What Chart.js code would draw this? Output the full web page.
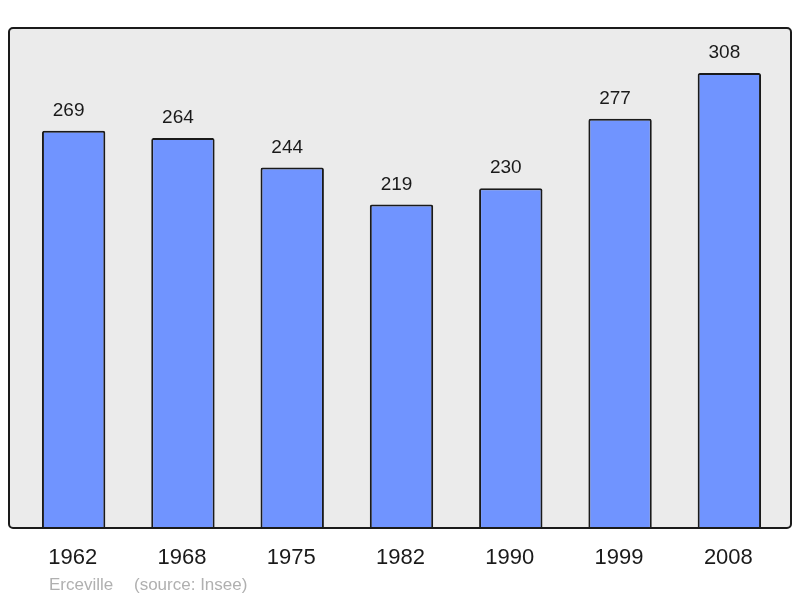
<!DOCTYPE html>
<html lang="fr">
<head>
  <meta charset="UTF-8" />
  <title>Erceville population</title>
  <style>
    body { margin: 0; background: #fff; }
  </style>
</head>
<body>
  <canvas id="myChart" width="800" height="598"></canvas>

  <script src="https://cdn.jsdelivr.net/npm/chart.js"></script>

  <script>
    // données
    const years = ['1962', '1968', '1975', '1982', '1990', '1999', '2008'];
    const population = [269, 264, 244, 219, 230, 277, 308];
    const town = 'Erceville';
    const source = '(source: Insee)';

    // cadre gris + libellés
    const decor = {
      id: 'decor',
      beforeDraw(chart) {
        const { ctx, chartArea: a } = chart;
        const x0 = a.left - 10, x1 = a.right + 7;
        ctx.save();
        ctx.beginPath();
        ctx.roundRect(x0, a.top, x1 - x0, a.bottom - a.top, 4);
        ctx.fillStyle = '#ebebeb';
        ctx.fill();
        ctx.restore();
      },
      afterDatasetsDraw(chart) {
        const { ctx, chartArea: a, scales } = chart;
        const x0 = a.left - 10, x1 = a.right + 7;
        ctx.save();
        ctx.beginPath();
        ctx.roundRect(x0, a.top, x1 - x0, a.bottom - a.top, 4);
        ctx.lineWidth = 2;
        ctx.strokeStyle = '#1a1a1a';
        ctx.stroke();

        ctx.fillStyle = '#1a1a1a';
        ctx.textAlign = 'center';
        ctx.textBaseline = 'alphabetic';
        ctx.font = '19px "Liberation Sans", Arial, sans-serif';
        chart.getDatasetMeta(0).data.forEach((bar, i) => {
          ctx.fillText(String(population[i]), bar.x - 5, bar.y - 15);
        });

        ctx.font = '22px "Liberation Sans", Arial, sans-serif';
        years.forEach((y, i) => {
          ctx.fillText(y, scales.x.getPixelForValue(i) - 1, 564);
        });

        ctx.fillStyle = '#b0b0b0';
        ctx.textAlign = 'left';
        ctx.font = '17px "Liberation Sans", Arial, sans-serif';
        ctx.fillText(town, 49, 590);
        ctx.fillText(source, 134, 590);
        ctx.restore();
      }
    };

    var context = document.getElementById('myChart').getContext('2d');
    var myChart = new Chart(context, {
      type: 'bar',
      data: {
        labels: years,
        datasets: [{
          data: population,
          backgroundColor: '#7094ff',
          borderColor: '#1a1a1a',
          borderWidth: 2,
          borderRadius: 2,
          borderSkipped: 'bottom',
          barPercentage: 0.58,
          categoryPercentage: 1
        }]
      },
      options: {
        responsive: false,
        animation: false,
        layout: { padding: { left: 19, right: 16, top: 28, bottom: 70 } },
        plugins: {
          legend: { display: false },
          tooltip: { enabled: false }
        },
        scales: {
          x: { display: false },
          y: { display: false, min: 0, max: 338.5 }
        }
      },
      plugins: [decor]
    });
  </script>
</body>
</html>
